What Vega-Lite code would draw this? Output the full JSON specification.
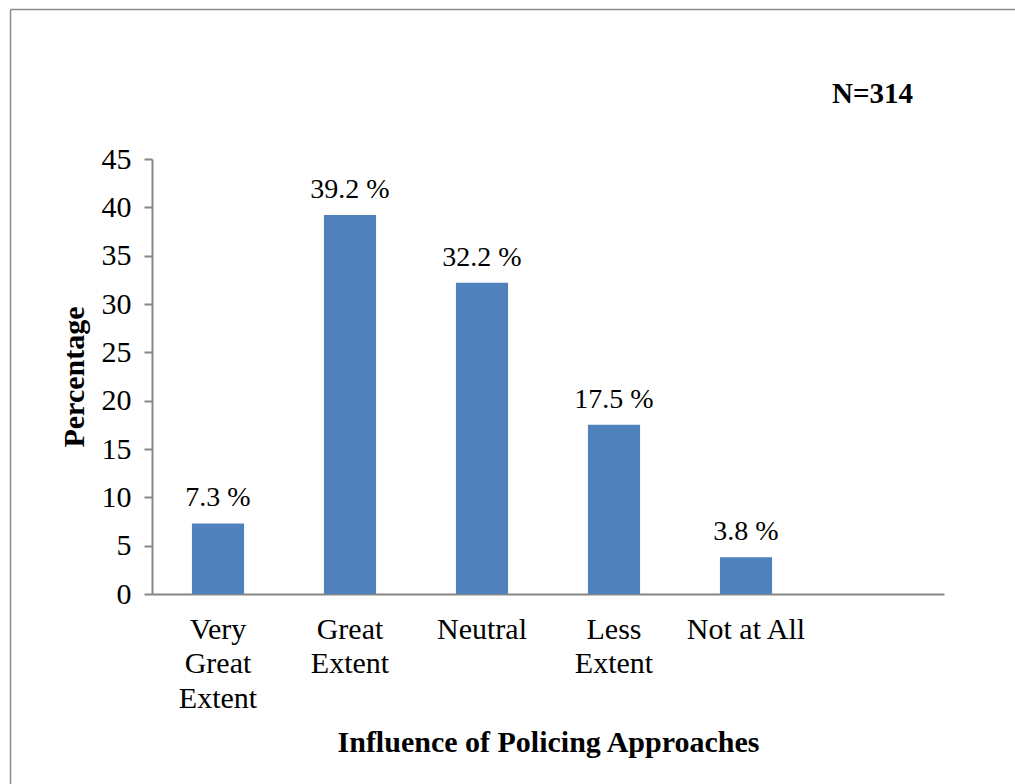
{
  "$schema": "https://vega.github.io/schema/vega-lite/v6.json",
  "width": 792,
  "height": 435,
  "autosize": "none",
  "padding": {"left": 152, "top": 159, "right": 71, "bottom": 190},
  "background": "white",
  "config": {
    "view": {"stroke": null},
    "font": "Liberation Serif"
  },
  "title": {
    "text": "N=314",
    "anchor": "end",
    "frame": "group",
    "dx": -31,
    "offset": -100,
    "font": "Liberation Serif",
    "fontSize": 29,
    "fontWeight": "bold",
    "color": "black"
  },
  "data": {
    "values": [
      {"category": "Very Great Extent", "pct": 7.3},
      {"category": "Great Extent", "pct": 39.2},
      {"category": "Neutral", "pct": 32.2},
      {"category": "Less Extent", "pct": 17.5},
      {"category": "Not at All", "pct": 3.8}
    ]
  },
  "layer": [
    {
      "description": "Outer frame: the top and left edges drawn as bare axis lines",
      "mark": {"type": "point", "opacity": 0, "size": 0},
      "encoding": {
        "x": {
          "datum": 0,
          "type": "quantitative",
          "scale": {"domain": [0, 1], "range": [-142, 863]},
          "axis": {"orient": "top", "offset": 150, "domain": true, "domainColor": "#8c8c8c", "domainWidth": 1.5, "ticks": false, "labels": false, "grid": false, "title": null}
        },
        "y": {
          "datum": 0,
          "type": "quantitative",
          "scale": {"domain": [0, 1], "range": [625, -150]},
          "axis": {"orient": "left", "offset": 142, "domain": true, "domainColor": "#8c8c8c", "domainWidth": 1.5, "ticks": false, "labels": false, "grid": false, "title": null}
        }
      }
    },
    {
      "transform": [
        {"calculate": "format(datum.pct, '.1f') + ' %'", "as": "label"}
      ],
      "encoding": {
        "x": {
          "field": "category",
          "type": "nominal",
          "sort": null,
          "scale": {"paddingInner": 0, "paddingOuter": 0.5, "align": 0},
          "axis": {
            "orient": "bottom",
            "title": "Influence of Policing Approaches",
            "titleFont": "Liberation Serif",
            "titleFontSize": 30,
            "titleFontWeight": "bold",
            "titleColor": "black",
            "titlePadding": 14,
            "labelFont": "Liberation Serif",
            "labelFontSize": 30,
            "labelColor": "black",
            "labelAngle": 0,
            "labelPadding": 20,
            "labelLineHeight": 34.5,
            "labelLimit": 0,
            "labelOverlap": false,
            "labelFlush": false,
            "labelExpr": "datum.value == 'Not at All' ? datum.value : split(datum.value, ' ')",
            "ticks": false,
            "domainColor": "#868686",
            "domainWidth": 2
          }
        },
        "y": {
          "field": "pct",
          "type": "quantitative",
          "scale": {"domain": [0, 45]},
          "axis": {
            "orient": "left",
            "values": [0, 5, 10, 15, 20, 25, 30, 35, 40, 45],
            "title": "Percentage",
            "titleFont": "Liberation Serif",
            "titleFontSize": 30,
            "titleFontWeight": "bold",
            "titleColor": "black",
            "titlePadding": 12,
            "labelFont": "Liberation Serif",
            "labelFontSize": 30,
            "labelColor": "black",
            "labelPadding": 13,
            "grid": false,
            "tickSize": 8,
            "tickColor": "#868686",
            "tickWidth": 2,
            "domainColor": "#868686",
            "domainWidth": 2
          }
        }
      },
      "layer": [
        {"mark": {"type": "bar", "color": "#4F81BD", "width": {"band": 0.395}}},
        {
          "mark": {"type": "text", "font": "Liberation Serif", "fontSize": 28, "color": "black", "baseline": "alphabetic", "dy": -17},
          "encoding": {"text": {"field": "label"}}
        }
      ]
    }
  ],
  "resolve": {
    "scale": {"x": "independent", "y": "independent"},
    "axis": {"x": "independent", "y": "independent"}
  }
}
